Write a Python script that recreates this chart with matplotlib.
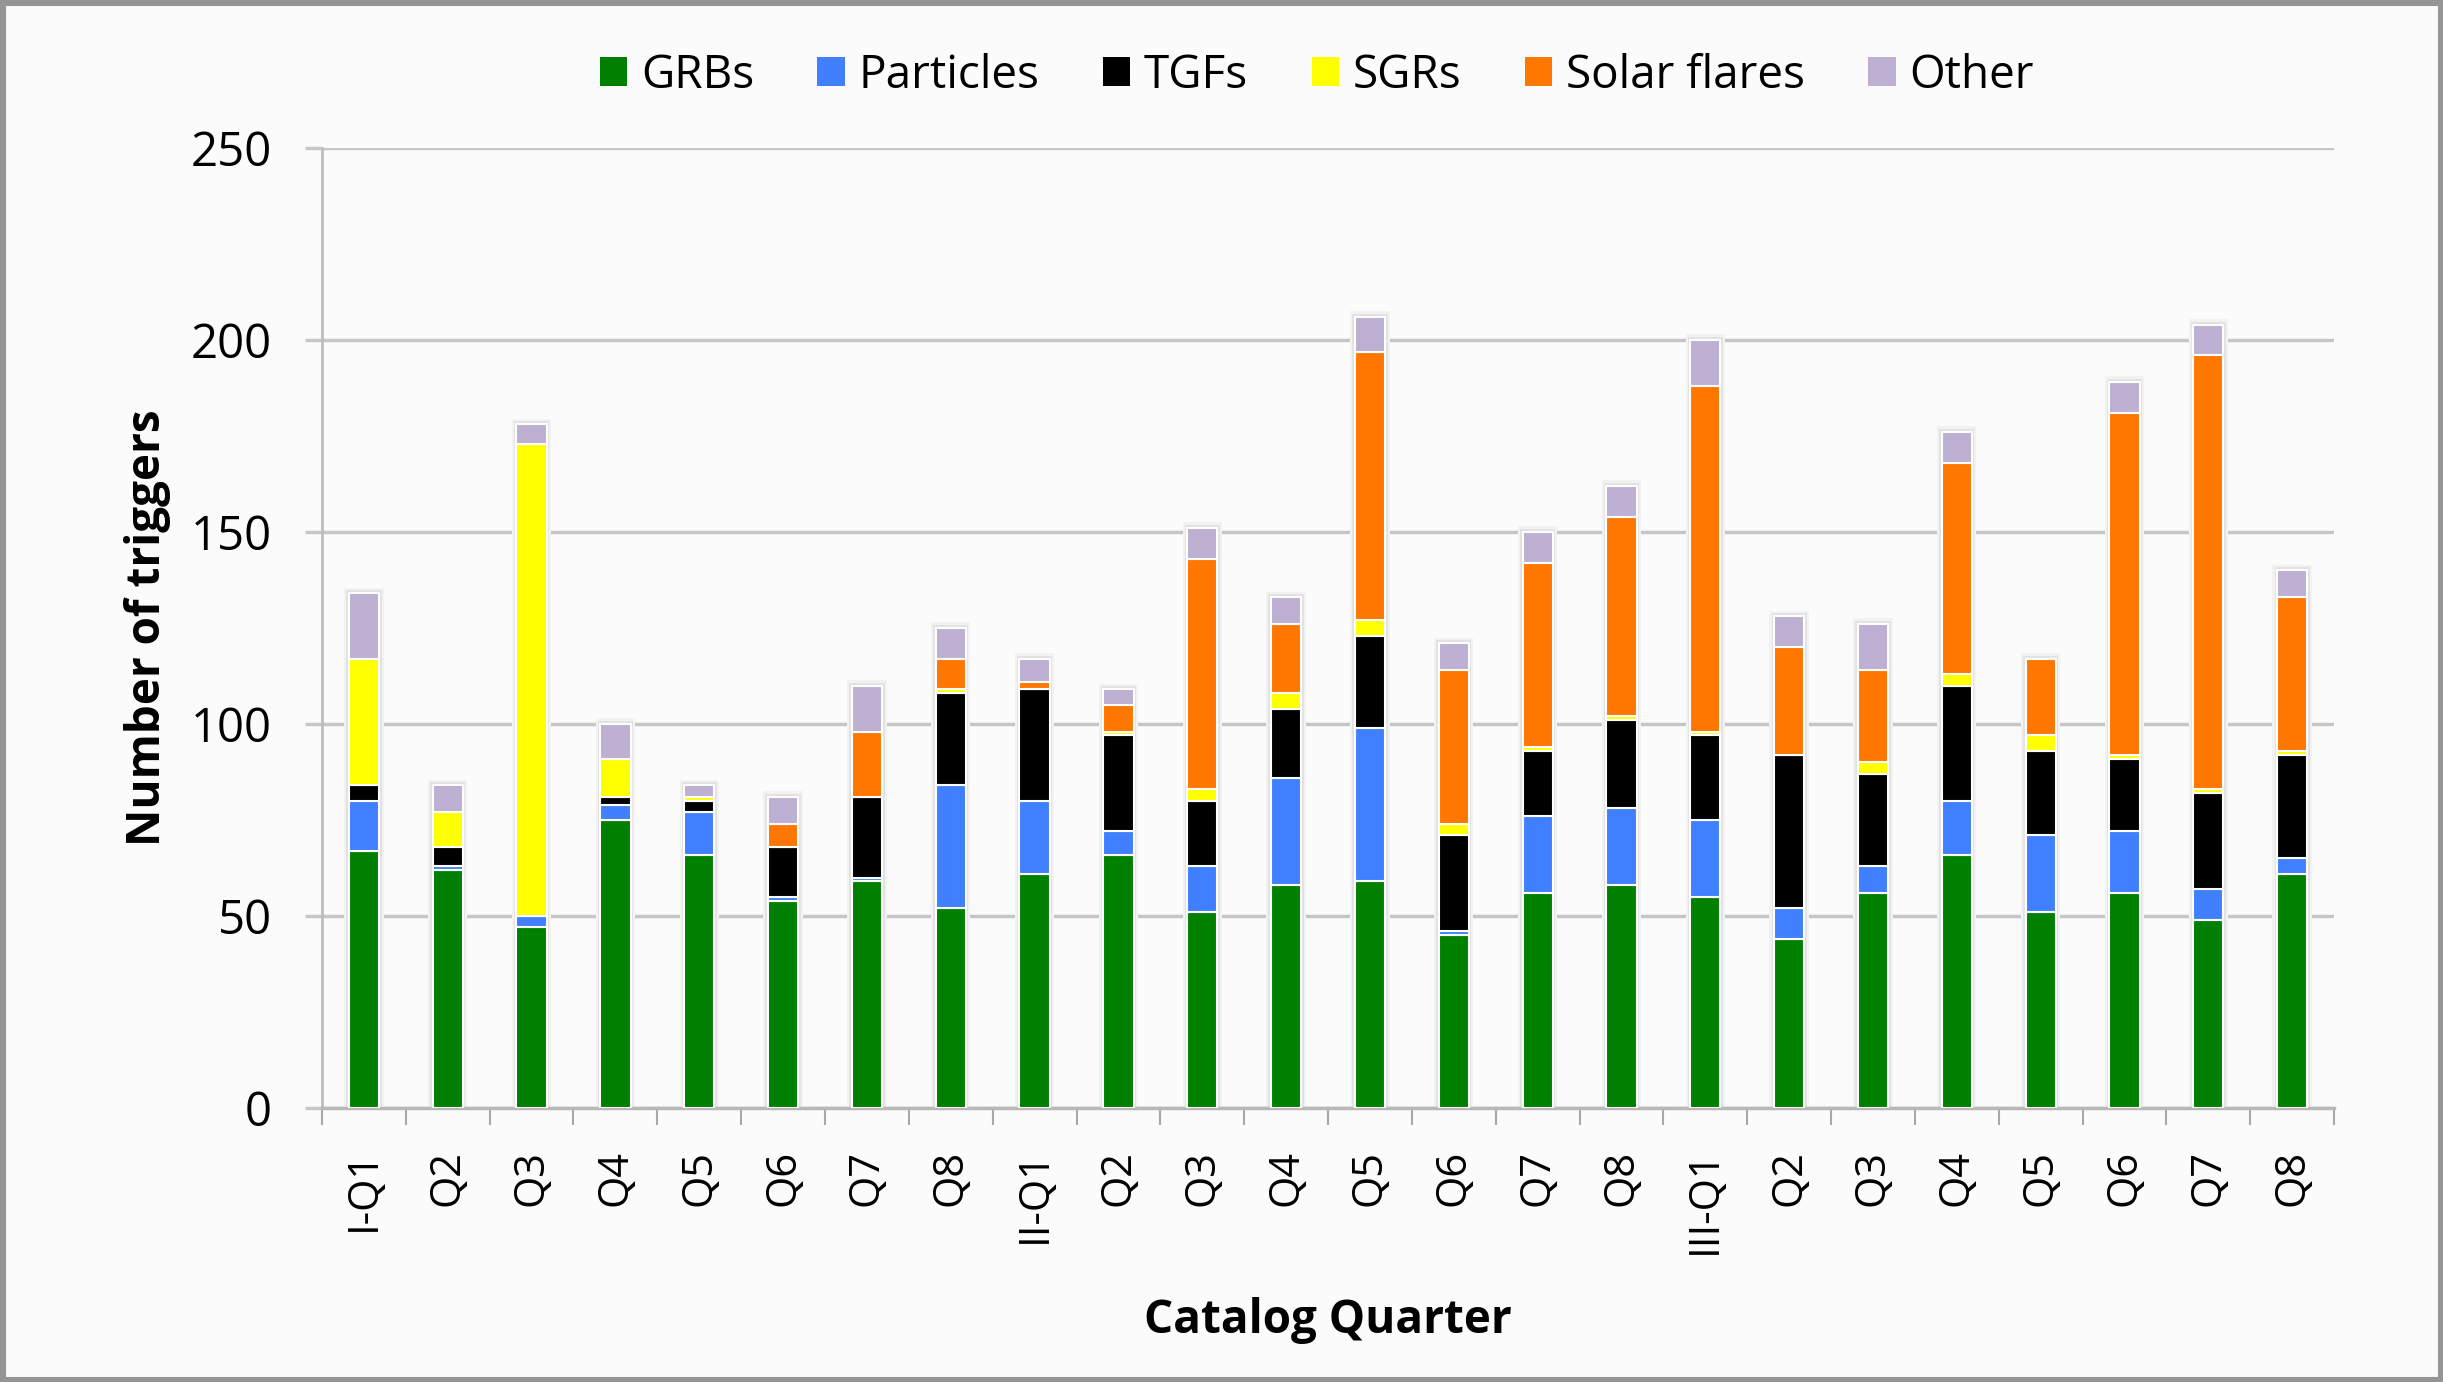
import numpy as np
import matplotlib
matplotlib.use('Agg')
import matplotlib.pyplot as plt
from matplotlib.patches import Patch, Rectangle

plt.rcParams['font.family'] = ['Open Sans', 'DejaVu Sans']

# Catalog quarters (three catalogs of eight quarters each)
quarters = ['I-Q1', 'Q2', 'Q3', 'Q4', 'Q5', 'Q6', 'Q7', 'Q8',
            'II-Q1', 'Q2', 'Q3', 'Q4', 'Q5', 'Q6', 'Q7', 'Q8',
            'III-Q1', 'Q2', 'Q3', 'Q4', 'Q5', 'Q6', 'Q7', 'Q8']

# Number of triggers per class
grbs = [67, 62, 47, 75, 66, 54, 59, 52,
        61, 66, 51, 58, 59, 45, 56, 58,
        55, 44, 56, 66, 51, 56, 49, 61]
particles = [13, 1, 3, 4, 11, 1, 1, 32,
             19, 6, 12, 28, 40, 1, 20, 20,
             20, 8, 7, 14, 20, 16, 8, 4]
tgfs = [4, 5, 0, 2, 3, 13, 21, 24,
        29, 25, 17, 18, 24, 25, 17, 23,
        22, 40, 24, 30, 22, 19, 25, 27]
sgrs = [33, 9, 123, 10, 1, 0, 0, 1,
        0, 1, 3, 4, 4, 3, 1, 1,
        1, 0, 3, 3, 4, 1, 1, 1]
solar_flares = [0, 0, 0, 0, 0, 6, 17, 8,
                2, 7, 60, 18, 70, 40, 48, 52,
                90, 28, 24, 55, 20, 89, 113, 40]
other = [17, 7, 5, 9, 3, 7, 12, 8,
         6, 4, 8, 7, 9, 7, 8, 8,
         12, 8, 12, 8, 0, 8, 8, 7]

series_names = ['GRBs', 'Particles', 'TGFs', 'SGRs', 'Solar flares', 'Other']
series_values = [grbs, particles, tgfs, sgrs, solar_flares, other]
series_colors = ['#008000', '#4080ff', '#000000', '#ffff00', '#ff7700', '#bdb0d2']

bg = '#fbfbfb'
fig = plt.figure(figsize=(24.43, 13.82), dpi=100, facecolor=bg)
ax = fig.add_axes([0.1318, 0.1983, 0.8236, 0.6946])
ax.set_facecolor(bg)

x = np.arange(len(quarters))
totals = np.sum(np.array(series_values), axis=0)

# soft glow behind each stacked bar
ax.bar(x, totals + 1.5, width=0.47, color='#f2f2f2', zorder=2)
ax.bar(x, totals + 0.8, width=0.42, color='#e2e2e2', zorder=2)

bottom = np.zeros(len(quarters))
for vals, name, col in zip(series_values, series_names, series_colors):
    ax.bar(x, vals, width=0.36, bottom=bottom, color=col, edgecolor='white',
           linewidth=1.5, zorder=3)
    bottom += np.array(vals)

ax.set_xlim(-0.5, len(quarters) - 0.5)
ax.set_ylim(0, 250)
ax.set_yticks(np.arange(0, 251, 50))
ax.yaxis.grid(True, color='#c6c6c6', linewidth=2.5, zorder=0)
ax.set_axisbelow(True)

for s in ['top', 'right']:
    ax.spines[s].set_visible(False)
ax.spines['left'].set_color('#bdbdbd')
ax.spines['left'].set_linewidth(2)
ax.spines['bottom'].set_color('#b8b8b8')
ax.spines['bottom'].set_linewidth(2.5)

ax.tick_params(axis='y', length=12, width=2.5, color='#c6c6c6', labelsize=34, pad=24)
ax.set_xticks(x)
ax.set_xticklabels(quarters, rotation=90)
ax.set_xticks(np.arange(-0.5, len(quarters), 1), minor=True)
ax.tick_params(axis='x', which='major', length=0, labelsize=30, pad=30)
ax.tick_params(axis='x', which='minor', length=12, width=1.5, color='#a8a8a8')

ax.set_ylabel('Number of triggers', fontsize=33, fontweight='bold', va='center')
ax.yaxis.set_label_coords(-0.0865, 0.5)
ax.set_xlabel('Catalog Quarter', fontsize=33, fontweight='bold', va='center')
ax.xaxis.set_label_coords(0.5, -0.221)

handles = [Patch(facecolor=c, edgecolor='none') for c in series_colors]
fig.legend(handles, series_names, loc='center', bbox_to_anchor=(0.539, 0.945),
           ncol=6, frameon=False, fontsize=33, handlelength=0.6, handleheight=0.6,
           handletextpad=0.3, columnspacing=1.38)

fig.add_artist(Rectangle((0, 0), 1, 1, transform=fig.transFigure, fill=False,
                         edgecolor='#959595', linewidth=8))

fig.savefig('out.png', dpi=100, facecolor=bg)
